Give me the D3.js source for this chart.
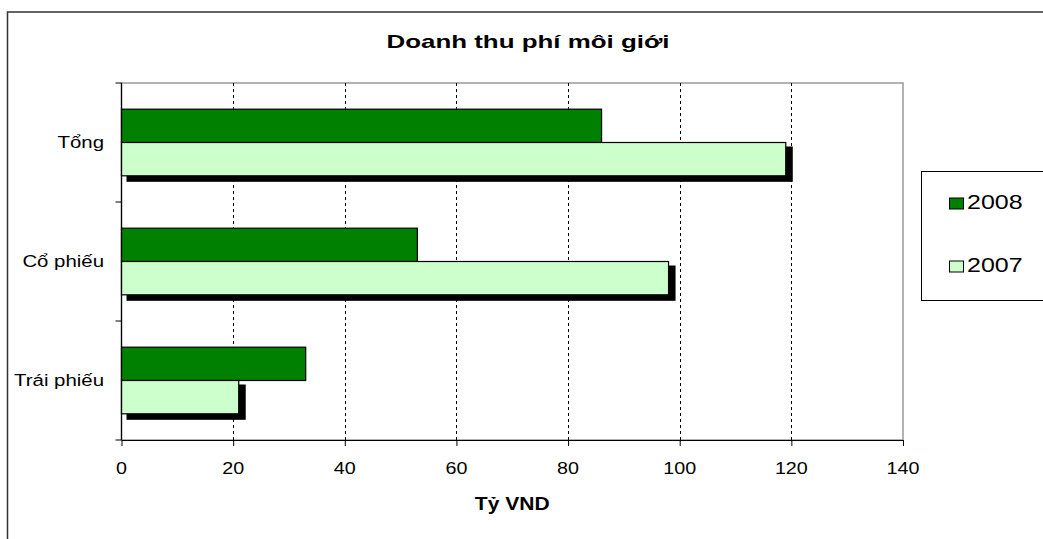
<!DOCTYPE html>
<html>
<head>
<meta charset="utf-8">
<style>
  body { margin: 0; background: #fff; }
  text { font-family: Arial, "Liberation Sans", sans-serif; fill: #000; }
</style>
</head>
<body>
<svg id="chart" width="1043" height="539"></svg>
<script src="https://d3js.org/d3.v7.min.js"></script>
<script>
// data
const categories = ['Tổng', 'Cổ phiếu', 'Trái phiếu'];
const seriesNames = ['2008', '2007'];
const values2008 = [86, 53, 33];
const values2007 = [119, 98, 21];
const xTicks = [0, 20, 40, 60, 80, 100, 120, 140];
const title = 'Doanh thu phí môi giới';
const xTitle = 'Tỷ VND';

const colors = {'2008': '#008000', '2007': '#ccffcc'};
const seriesValues = {'2008': values2008, '2007': values2007};

const svg = d3.select('#chart');

// outer frame (runs off the right/bottom edge)
svg.append('rect')
   .attr('x', 7.5).attr('y', 12)
   .attr('width', 1100).attr('height', 600)
   .attr('fill', 'none').attr('stroke', '#333').attr('stroke-width', 1.5);

const plot = {left: 121.5, top: 83, right: 903, bottom: 440};

const x = d3.scaleLinear().domain([0, 140]).range([plot.left, plot.right]);
const y = d3.scaleBand().domain(categories).range([plot.top, plot.bottom]).padding(0);
const ySeries = d3.scaleBand().domain(seriesNames)
                  .range([y.step() * 0.22, y.step() * 0.78]);

// plot area border (grey)
svg.append('rect')
   .attr('x', plot.left).attr('y', plot.top)
   .attr('width', plot.right - plot.left).attr('height', plot.bottom - plot.top)
   .attr('fill', 'none').attr('stroke', '#999').attr('stroke-width', 1.5);

// grid lines
svg.append('g')
   .selectAll('line')
   .data(xTicks.filter(d => d > 0 && d < 140))
   .join('line')
   .attr('x1', d => Math.round(x(d)) + 0.5).attr('x2', d => Math.round(x(d)) + 0.5)
   .attr('y1', plot.top).attr('y2', plot.bottom)
   .attr('stroke', '#000').attr('stroke-dasharray', '3,3');

// bars
const rows = [];
categories.forEach((c, i) => {
  seriesNames.forEach(s => rows.push({cat: c, series: s, value: seriesValues[s][i]}));
});

const barsG = svg.append('g');
// shadow only for 2007 series
barsG.selectAll('rect.shadow')
     .data(rows.filter(d => d.series === '2007'))
     .join('rect')
     .attr('class', 'shadow')
     .attr('x', x(0) + 5)
     .attr('y', d => y(d.cat) + ySeries(d.series) + 4)
     .attr('width', d => x(d.value) - x(0) + 2)
     .attr('height', ySeries.bandwidth() + 2)
     .attr('fill', '#000');

barsG.selectAll('rect.bar')
     .data(rows)
     .join('rect')
     .attr('class', 'bar')
     .attr('x', x(0))
     .attr('y', d => y(d.cat) + ySeries(d.series))
     .attr('width', d => x(d.value) - x(0))
     .attr('height', ySeries.bandwidth())
     .attr('fill', d => colors[d.series])
     .attr('stroke', '#000').attr('stroke-width', 1.2);

// axes
const xAxis = d3.axisBottom(x).tickValues(xTicks).tickSize(6).tickSizeOuter(0).tickFormat('');
svg.append('g')
   .attr('transform', `translate(0, ${plot.bottom})`)
   .call(xAxis)
   .call(g => g.selectAll('line, path').attr('stroke', '#000'));

const yTickPos = [plot.top].concat(categories.map(c => y(c) + y.step()));
svg.append('g')
   .selectAll('line')
   .data(yTickPos)
   .join('line')
   .attr('x1', plot.left - 6).attr('x2', plot.left)
   .attr('y1', d => d).attr('y2', d => d)
   .attr('stroke', '#000');
svg.append('line')
   .attr('x1', plot.left).attr('x2', plot.left)
   .attr('y1', plot.top).attr('y2', plot.bottom)
   .attr('stroke', '#000').attr('stroke-width', 1.2);

// tick labels
svg.append('g')
   .selectAll('text')
   .data(xTicks)
   .join('text')
   .attr('transform', d => `translate(${x(d)}, 474) scale(1.16, 1)`)
   .attr('text-anchor', 'middle')
   .attr('font-size', 17)
   .text(d => d);

svg.append('g')
   .selectAll('text')
   .data(categories)
   .join('text')
   .attr('transform', d => `translate(104, ${y(d) + y.step() / 2 + 5.5}) scale(1.2, 1)`)
   .attr('text-anchor', 'end')
   .attr('font-size', 17)
   .text(d => d);

// titles
svg.append('text')
   .attr('transform', 'translate(528, 47.5) scale(1.4, 1)')
   .attr('text-anchor', 'middle')
   .attr('font-size', 18.5)
   .attr('font-weight', 'bold')
   .text(title);

svg.append('text')
   .attr('transform', `translate(${(plot.left + plot.right) / 2}, 510) scale(1.17, 1)`)
   .attr('text-anchor', 'middle')
   .attr('font-size', 18)
   .attr('font-weight', 'bold')
   .text(xTitle);

// legend
const legend = svg.append('g');
legend.append('rect')
      .attr('x', 921.5).attr('y', 171.5)
      .attr('width', 200).attr('height', 129)
      .attr('fill', '#fff').attr('stroke', '#000');
const legendY = d3.scalePoint().domain(seriesNames).range([209, 272]);
legend.selectAll('rect.key')
      .data(seriesNames)
      .join('rect')
      .attr('class', 'key')
      .attr('x', 949.5)
      .attr('y', d => legendY(d) - 11)
      .attr('width', 14).attr('height', 11)
      .attr('fill', d => colors[d]).attr('stroke', '#000');
legend.selectAll('text')
      .data(seriesNames)
      .join('text')
      .attr('transform', d => `translate(967, ${legendY(d)}) scale(1.25, 1)`)
      .attr('font-size', 20)
      .text(d => d);
</script>
</body>
</html>
